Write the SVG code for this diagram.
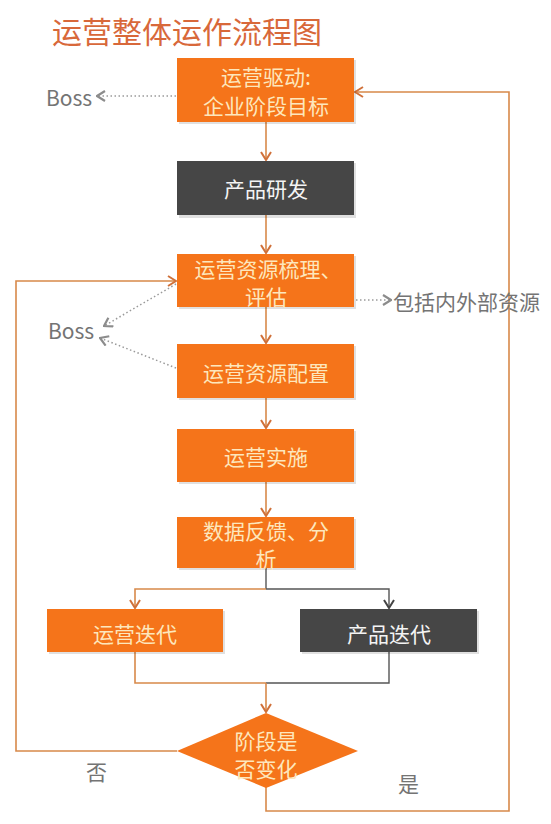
<svg xmlns="http://www.w3.org/2000/svg" width="551" height="824" viewBox="0 0 551 824">
<style>
text{font-family:"Noto Sans CJK SC","Liberation Sans",sans-serif;}
.or{fill:#f5741a;}
.dk{fill:#464646;}
.bt{font-size:21px;fill:#fde7bd;text-anchor:middle;dominant-baseline:central;}
.wt{font-size:21px;fill:#f4f4f4;text-anchor:middle;dominant-baseline:central;}
.gt{font-size:21px;fill:#747474;dominant-baseline:central;}
.lo{fill:none;stroke:#d8894a;stroke-width:1.6;}
.ld{fill:none;stroke:#555;stroke-width:1.4;}
.lg{fill:none;stroke:#9a9a9a;stroke-width:1.5;stroke-dasharray:1.5 2.5;}
.sh{fill:#000;opacity:0.12;}
</style>
<defs>
<marker id="ao" viewBox="0 0 12 12" refX="11" refY="6" markerWidth="12" markerHeight="12" markerUnits="userSpaceOnUse" orient="auto"><path d="M3,1 L11,6 L3,11" fill="none" stroke="#d0713a" stroke-width="2"/></marker>
<marker id="ad" viewBox="0 0 12 12" refX="11" refY="6" markerWidth="12" markerHeight="12" markerUnits="userSpaceOnUse" orient="auto"><path d="M3,1 L11,6 L3,11" fill="none" stroke="#444" stroke-width="2"/></marker>
<marker id="ag" viewBox="0 0 12 12" refX="11" refY="6" markerWidth="12" markerHeight="12" markerUnits="userSpaceOnUse" orient="auto"><path d="M3,1 L11,6 L3,11" fill="none" stroke="#8c8c8c" stroke-width="2.2"/></marker>
</defs>
<rect width="551" height="824" fill="#ffffff"/>
<text x="52" y="30" font-size="30" fill="#d8683a" dominant-baseline="central">运营整体运作流程图</text>

<g id="connectors">
<path class="lo" d="M266,122 V160" marker-end="url(#ao)"/>
<path class="lo" d="M266,215 V253" marker-end="url(#ao)"/>
<path class="lo" d="M266,307 V343" marker-end="url(#ao)"/>
<path class="lo" d="M266,398 V428" marker-end="url(#ao)"/>
<path class="lo" d="M266,482 V516" marker-end="url(#ao)"/>
<path class="ld" d="M266,568 V589"/>
<path class="lo" d="M266,589 H135 V608" marker-end="url(#ao)"/>
<path class="ld" d="M266,589 H389 V608" marker-end="url(#ad)"/>
<path class="lo" d="M135,652 V683 H266"/>
<path class="ld" d="M389,652 V683 H266"/>
<path class="lo" d="M266,683 V712" marker-end="url(#ao)"/>
<path class="lo" d="M177,751 H16 V281 H176" marker-end="url(#ao)"/>
<path class="lo" d="M266,787 V811 H509 V92 H355" marker-end="url(#ao)"/>
<path class="lg" d="M176,96 H97" marker-end="url(#ag)"/>
<path class="lg" d="M356,300 H391" marker-end="url(#ag)"/>
<path class="lg" d="M176,284 L104,326" marker-end="url(#ag)"/>
<path class="lg" d="M176,368 L100,338" marker-end="url(#ag)"/>
</g>

<g id="n1"><rect class="sh" x="179" y="60" width="177" height="64"/><rect class="or" x="177" y="58" width="177" height="64"/><text class="bt" x="266" y="76" font-size="20">运营驱动:</text><text class="bt" x="266" y="105" font-size="20">企业阶段目标</text></g>
<g id="n2"><rect class="sh" x="179" y="163" width="177" height="55"/><rect class="dk" x="177" y="161" width="177" height="54"/><text class="wt" x="266" y="188">产品研发</text></g>
<g id="n3"><rect class="sh" x="179" y="256" width="177" height="53"/><rect class="or" x="177" y="254" width="177" height="53"/><text class="bt" x="268" y="268" font-size="19">运营资源梳理、</text><text class="bt" x="266" y="296" font-size="19">评估</text></g>
<g id="n4"><rect class="sh" x="179" y="346" width="177" height="54"/><rect class="or" x="177" y="344" width="177" height="54"/><text class="bt" x="266" y="372">运营资源配置</text></g>
<g id="n5"><rect class="sh" x="179" y="431" width="177" height="53"/><rect class="or" x="177" y="429" width="177" height="53"/><text class="bt" x="266" y="456">运营实施</text></g>
<g id="n6"><rect class="sh" x="179" y="519" width="177" height="51"/><rect class="or" x="177" y="517" width="177" height="51"/><text class="bt" x="266" y="530" font-size="19">数据反馈、分</text><text class="bt" x="266" y="558" font-size="19">析</text></g>
<g id="n7"><rect class="sh" x="49" y="611" width="176" height="43"/><rect class="or" x="47" y="609" width="176" height="43"/><text class="bt" x="135" y="633">运营迭代</text></g>
<g id="n8"><rect class="sh" x="302" y="611" width="177" height="43"/><rect class="dk" x="300" y="609" width="177" height="43"/><text class="wt" x="389" y="633">产品迭代</text></g>
<g id="n9"><polygon class="or" points="266,713 358,751 266,788 177,751"/><text class="bt" x="266" y="740" font-size="18">阶段是</text><text class="bt" x="266" y="768" font-size="18">否变化</text></g>
<g id="boss1"><text class="gt" x="46" y="97">Boss</text></g>
<g id="boss2"><text class="gt" x="48" y="330">Boss</text></g>
<g id="res"><text class="gt" x="393" y="301">包括内外部资源</text></g>
<g id="no"><text class="gt" x="86" y="771" font-size="22">否</text></g>
<g id="yes"><text class="gt" x="398" y="783" font-size="22">是</text></g>
</svg>
